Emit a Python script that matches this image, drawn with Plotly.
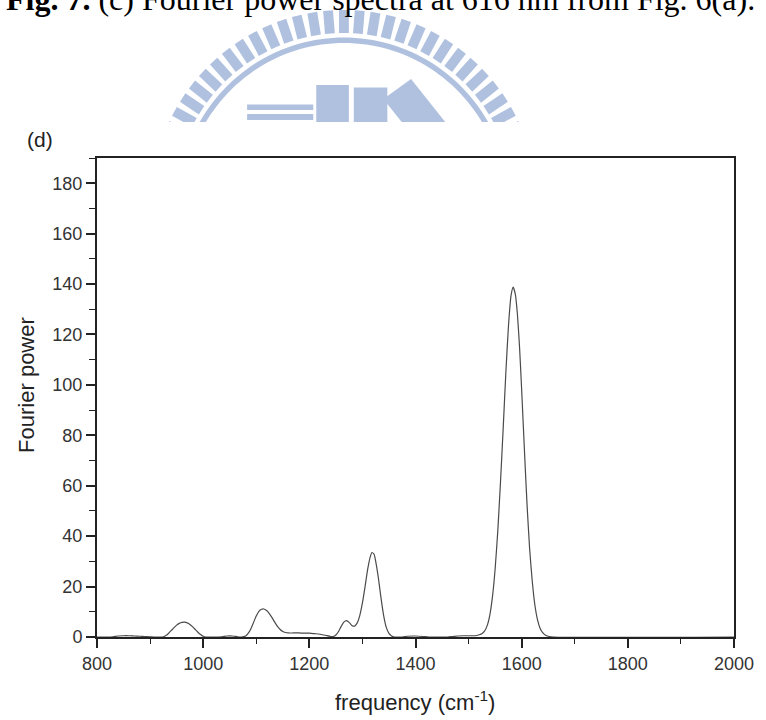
import math
import plotly.graph_objects as go

# Fourier power spectrum at 616 nm
freq = [800, 820, 830, 840, 850, 860, 870, 880, 890, 900, 910, 920, 925, 930, 935,
        940, 945, 950, 955, 960, 965, 970, 975, 980, 985, 990, 995, 1000, 1005,
        1020, 1035, 1045, 1055, 1065, 1072, 1080, 1085, 1090, 1095, 1100, 1105,
        1110, 1114, 1120, 1125, 1130, 1135, 1140, 1145, 1150, 1155, 1160, 1170,
        1180, 1190, 1200, 1210, 1220, 1230, 1240, 1245, 1250, 1255, 1260, 1265,
        1270, 1275, 1280, 1285, 1290, 1295, 1300, 1305, 1310, 1315, 1318, 1322,
        1325, 1330, 1335, 1340, 1345, 1350, 1355, 1360, 1375, 1385, 1400, 1415,
        1425, 1460, 1470, 1480, 1490, 1500, 1510, 1515, 1520, 1525, 1530, 1535,
        1540, 1545, 1550, 1555, 1560, 1565, 1570, 1575, 1580, 1584, 1588, 1592,
        1596, 1600, 1605, 1610, 1615, 1620, 1625, 1630, 1635, 1640, 1645, 1650,
        1660, 2000]
power = [0, 0, 0.1, 0.4, 0.5, 0.5, 0.4, 0.3, 0.2, 0.1, 0, 0, 0.1, 0.6, 1.5,
         2.6, 3.7, 4.7, 5.4, 5.8, 5.9, 5.6, 5.0, 4.1, 3.0, 1.9, 1.0, 0.3, 0,
         0, 0.1, 0.4, 0.4, 0.1, 0, 0.4, 1.5, 3.3, 5.8, 8.3, 10.2,
         11.0, 11.1, 10.4, 9.2, 7.6, 5.8, 4.2, 3.0, 2.2, 1.8, 1.6, 1.6,
         1.6, 1.5, 1.5, 1.3, 1.1, 0.7, 0.2, 0.2, 0.8, 2.2, 4.2, 5.9,
         6.5, 5.8, 4.6, 4.3, 5.5, 8.5, 13.5, 20, 27, 32, 33.5, 32.8,
         30, 23.5, 15.5, 8.5, 3.8, 1.4, 0.4, 0, 0, 0.3, 0.4, 0.2,
         0, 0, 0.2, 0.4, 0.5, 0.5, 0.5, 0.6, 0.9, 1.3, 2.3, 4.5,
         8.7, 16, 27, 42, 61, 82, 104, 123, 135.5, 138.8, 136, 128,
         115, 98, 75, 53, 35, 22, 12.5, 6.7, 3.3, 1.6, 0.7, 0.3,
         0, 0]

x_ticks = [800, 1000, 1200, 1400, 1600, 1800, 2000]
y_ticks = [0, 20, 40, 60, 80, 100, 120, 140, 160, 180]

# page geometry (pixels)
W, H = 766, 720
ML, MR, MT, MB = 97, 24, 158, 83
PW, PH = W - ML - MR, H - MT - MB


def to_paper(x, y):
    return (x - ML) / PW, (H - MB - y) / PH


def poly_path(points):
    pts = [to_paper(x, y) for x, y in points]
    return "M " + " L ".join(f"{a:.5f},{b:.5f}" for a, b in pts) + " Z"


LOGO = "#b0c1e0"
shapes = []

# university emblem watermark behind the caption
cx, cy = 347, 206
R_IN, R_OUT = 173, 196
for k in range(-15, 16):
    t = math.radians(90 + k * 4.7)
    ux, uy = math.cos(t), -math.sin(t)
    vx, vy = -uy, ux
    hw = 5.0
    pts = [(cx + R_IN * ux + hw * vx, cy + R_IN * uy + hw * vy),
           (cx + R_OUT * ux + hw * vx, cy + R_OUT * uy + hw * vy),
           (cx + R_OUT * ux - hw * vx, cy + R_OUT * uy - hw * vy),
           (cx + R_IN * ux - hw * vx, cy + R_IN * uy - hw * vy)]
    shapes.append(dict(type="path", xref="paper", yref="paper", layer="below",
                       path=poly_path(pts), fillcolor=LOGO, line=dict(width=0)))

ring_out = [(cx + 168.5 * math.cos(math.radians(a)), cy - 168.5 * math.sin(math.radians(a)))
            for a in range(12, 169, 2)]
ring_in = [(cx + 163.0 * math.cos(math.radians(a)), cy - 163.0 * math.sin(math.radians(a)))
           for a in range(168, 11, -2)]
shapes.append(dict(type="path", xref="paper", yref="paper", layer="below",
                   path=poly_path(ring_out + ring_in), fillcolor=LOGO, line=dict(width=0)))

blocks = [
    [(249, 104.5), (316, 104.5), (316, 110), (249, 110)],
    [(249, 114), (316, 114), (316, 120), (249, 120)],
    [(319, 85), (352, 85), (352, 130), (319, 130)],
    [(357, 87.5), (391, 87.5), (391, 130), (357, 130)],
    [(387, 99), (415, 79), (452, 125), (424, 145)],
]
for b in blocks:
    shapes.append(dict(type="path", xref="paper", yref="paper", layer="below",
                       path=poly_path(b), fillcolor=LOGO, line=dict(width=0)))

# white page area that covers the lower part of the emblem
x0, y0 = to_paper(-5, 122)
x1, y1 = to_paper(W + 5, H + 5)
shapes.append(dict(type="rect", xref="paper", yref="paper", layer="below",
                   x0=x0, x1=x1, y0=y1, y1=y0, fillcolor="white", line=dict(width=0)))

fig = go.Figure()
fig.add_trace(go.Scatter(
    x=freq, y=power, mode="lines",
    line=dict(color="#4a4a4a", width=1.2, shape="spline", smoothing=0.5),
    hoverinfo="skip", showlegend=False,
))

axis_font = dict(family="Liberation Sans, Arial, sans-serif", size=18, color="#333333")
common = dict(showline=True, linecolor="#222222", linewidth=2, mirror=True,
              ticks="outside", ticklen=9, tickwidth=1.6, tickcolor="#222222",
              showgrid=False, zeroline=False, tickfont=axis_font)

fig.update_xaxes(range=[800, 2000], tickvals=x_ticks,
                 minor=dict(dtick=100, tick0=800, ticks="outside", ticklen=5,
                            tickwidth=1.4, tickcolor="#222222"),
                 **common)
fig.update_yaxes(range=[0, 190], tickvals=y_ticks,
                 minor=dict(dtick=10, tick0=0, ticks="outside", ticklen=6,
                            tickwidth=1.4, tickcolor="#222222"),
                 **common)

title_font = dict(family="Liberation Sans, Arial, sans-serif", size=22, color="#222222")
cap_x, cap_y = to_paper(384, -1)
xt_x, xt_y = to_paper(419, 701)
yt_x, yt_y = to_paper(25, 385)
d_x, d_y = to_paper(39, 139)

annotations = [
    dict(text="<b>Fig. 7.</b> (c) Fourier power spectra at 616 nm from Fig. 6(a).",
         x=cap_x, y=cap_y, xref="paper", yref="paper", showarrow=False,
         xanchor="center", yanchor="middle",
         font=dict(family="Liberation Serif, Times New Roman, serif", size=32, color="black")),
    dict(text="frequency (cm<sup>-1</sup>)", x=xt_x, y=xt_y, xref="paper", yref="paper",
         showarrow=False, xanchor="center", yanchor="middle", font=title_font),
    dict(text="Fourier power", x=yt_x, y=yt_y, xref="paper", yref="paper",
         showarrow=False, xanchor="center", yanchor="middle", textangle=-90, font=title_font),
    dict(text="(d)", x=d_x, y=d_y, xref="paper", yref="paper", showarrow=False,
         xanchor="center", yanchor="middle",
         font=dict(family="Liberation Sans, Arial, sans-serif", size=21, color="#222222")),
]

fig.update_layout(
    width=W, height=H,
    margin=dict(l=ML, r=MR, t=MT, b=MB, pad=0),
    paper_bgcolor="white", plot_bgcolor="white",
    shapes=shapes, annotations=annotations,
)

fig.write_html("out.html")
